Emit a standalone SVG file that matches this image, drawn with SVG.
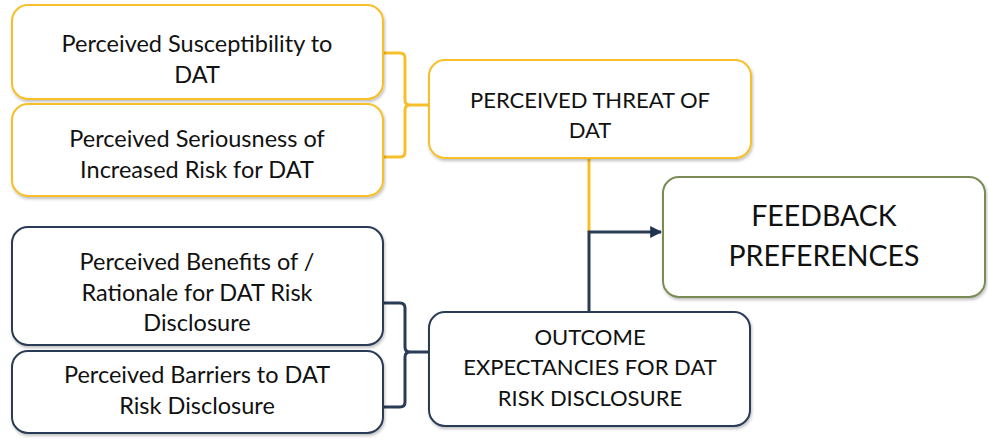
<svg xmlns="http://www.w3.org/2000/svg" width="988" height="439" viewBox="0 0 988 439">
<defs>
<filter id="sh" x="-10%" y="-10%" width="120%" height="130%">
<feDropShadow dx="1" dy="2" stdDeviation="1.5" flood-color="#000" flood-opacity="0.25"/>
</filter>
<marker id="ah" viewBox="0 0 10 10" refX="9" refY="5" markerWidth="4" markerHeight="4" orient="auto" markerUnits="strokeWidth">
<path d="M0,0 L10,5 L0,10 z" fill="#1F3350"/>
</marker>
<style>
.box{fill:#fff;stroke-width:2;filter:url(#sh)}
.y{stroke:#F7BF2A}
.d{stroke:#2A3B55}
.g{stroke:#7A8B55}
text{font-family:"Lato","Open Sans","Liberation Sans",sans-serif;font-size:23.5px;fill:#111;text-anchor:middle}
.up{font-size:22px}
.big{font-size:28.5px}
.c{fill:none;stroke-width:3}
</style>
</defs>
<g id="connectors">
<path class="c y" d="M383,53 H400 Q405,53 405,58 V100 Q405,105 410,105 H429 M383,157 H400 Q405,157 405,152 V110 Q405,105 410,105"/>
<path class="c d" d="M383,303 H400 Q405,303 405,308 V347 Q405,352 410,352 H429 M383,407 H400 Q405,407 405,402 V357 Q405,352 410,352"/>
<path class="c y" d="M589,158 V232"/>
<path class="c d" d="M589,312 V232 H661" marker-end="url(#ah)"/>
</g>
<g id="n1"><rect class="box y" x="12" y="5" width="371" height="94" rx="16"/>
<text x="197" y="52">Perceived Susceptibility to</text><text x="197" y="83">DAT</text></g>
<g id="n2"><rect class="box y" x="12" y="104" width="371" height="92" rx="16"/>
<text x="197" y="147">Perceived Seriousness of</text><text x="197" y="178">Increased Risk for DAT</text></g>
<g id="n3"><rect class="box y" x="429" y="60" width="322" height="98" rx="16"/>
<text class="up" x="590" y="108">PERCEIVED THREAT OF</text><text class="up" x="590" y="138">DAT</text></g>
<g id="n4"><rect class="box g" x="663" y="177" width="322" height="120" rx="16"/>
<text class="big" x="824" y="226">FEEDBACK</text><text class="big" x="824" y="266">PREFERENCES</text></g>
<g id="n5"><rect class="box d" x="12" y="227" width="371" height="118" rx="16"/>
<text x="197" y="270">Perceived Benefits of /</text><text x="197" y="301">Rationale for DAT Risk</text><text x="197" y="331">Disclosure</text></g>
<g id="n6"><rect class="box d" x="12" y="351" width="371" height="82" rx="16"/>
<text x="197" y="383">Perceived Barriers to DAT</text><text x="197" y="414">Risk Disclosure</text></g>
<g id="n7"><rect class="box d" x="429" y="312" width="321" height="114" rx="16"/>
<text class="up" x="590" y="345">OUTCOME</text><text class="up" x="590" y="375">EXPECTANCIES FOR DAT</text><text class="up" x="590" y="406">RISK DISCLOSURE</text></g>
</svg>
